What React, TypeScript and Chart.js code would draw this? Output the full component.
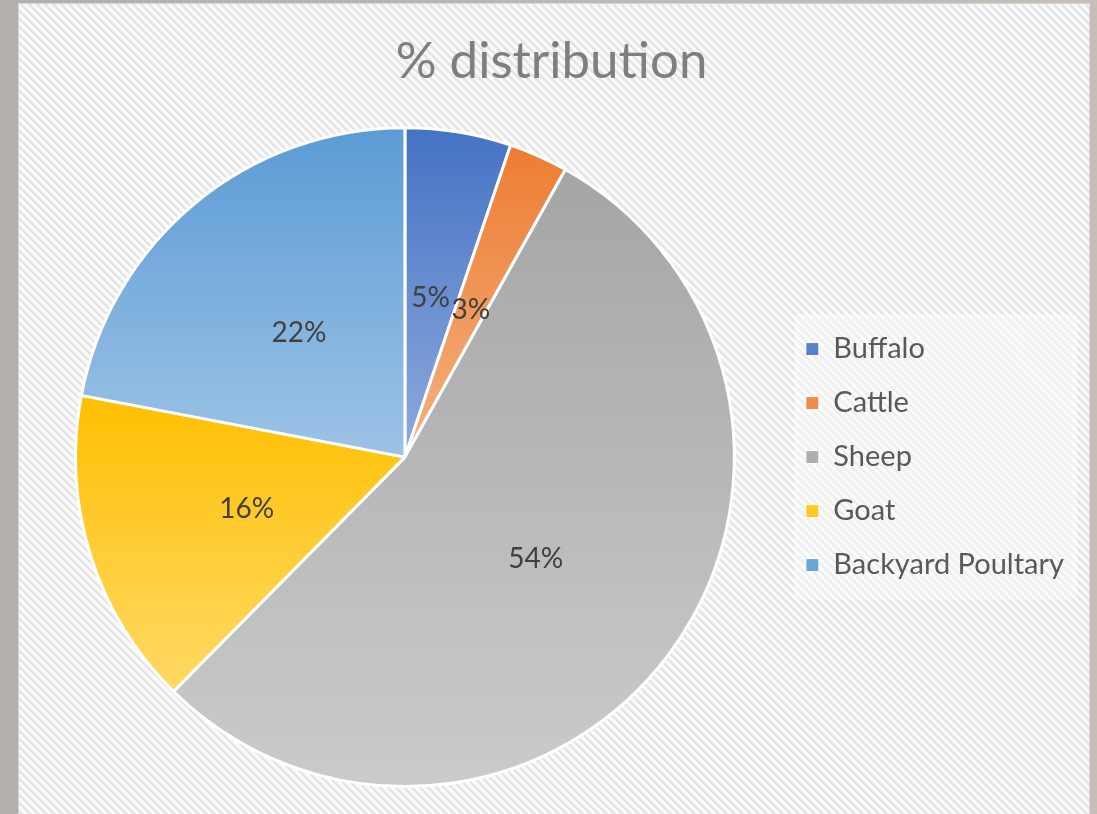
import React, { useEffect, useRef } from "react";
import { Chart, registerables } from "chart.js";

Chart.register(...registerables);

const categories = ["Buffalo", "Cattle", "Sheep", "Goat", "Backyard Poultary"];
const shares = [5.2, 2.9, 54.3, 15.6, 22.0];
const topColors = ["#4472C4", "#ED7D31", "#A5A5A5", "#FFC000", "#5B9BD5"];
const bottomColors = ["#8FAADC", "#F4B183", "#CBCBCB", "#FFD966", "#9DC3E6"];
const legendColors = ["#5A80CB", "#EF8C4B", "#AFAFAF", "#FFC826", "#6BA6DA"];
const titleText = "% distribution";

function sliceGradient(context: any) {
  const chart = context.chart;
  const idx = context.dataIndex;
  const area = chart.chartArea;
  if (!area || idx === undefined) return topColors[idx ?? 0];
  const cx = (area.left + area.right) / 2;
  const cy = (area.top + area.bottom) / 2;
  const r = Math.min(area.right - area.left, area.bottom - area.top) / 2;
  const total = shares.reduce((a, b) => a + b, 0);
  let start = 0;
  for (let i = 0; i < idx; i++) start += shares[i];
  const a0 = -Math.PI / 2 + (2 * Math.PI * start) / total;
  const a1 = a0 + (2 * Math.PI * shares[idx]) / total;
  const ys = [cy, cy + r * Math.sin(a0), cy + r * Math.sin(a1)];
  [-Math.PI / 2, Math.PI / 2, (3 * Math.PI) / 2].forEach((k) => {
    if (k >= a0 && k <= a1) ys.push(cy + r * Math.sin(k));
  });
  const y0 = Math.min(...ys);
  const y1 = Math.max(...ys);
  const g = chart.ctx.createLinearGradient(0, y0, 0, y1);
  g.addColorStop(0, topColors[idx]);
  g.addColorStop(1, bottomColors[idx]);
  return g;
}

const legendBackdrop = {
  id: "legendBackdrop",
  beforeDraw(chart: any) {
    const lg = chart.legend;
    if (!lg || !lg.legendHitBoxes || !lg.legendHitBoxes.length) return;
    const boxes = lg.legendHitBoxes;
    const left = Math.min(...boxes.map((b: any) => b.left)) - 11;
    const right = Math.max(...boxes.map((b: any) => b.left + b.width)) + 13;
    const top = boxes[0].top - 20;
    const bottom = boxes[boxes.length - 1].top + boxes[boxes.length - 1].height + 20;
    const ctx = chart.ctx;
    ctx.save();
    ctx.fillStyle = "rgba(255,255,255,0.4)";
    ctx.fillRect(left, top, right - left, bottom - top);
    ctx.restore();
  },
};

const sliceLabels = {
  id: "sliceLabels",
  afterDatasetsDraw(chart: any) {
    const meta = chart.getDatasetMeta(0);
    const ctx = chart.ctx;
    const total = shares.reduce((a, b) => a + b, 0);
    ctx.save();
    ctx.font = "28px Lato";
    ctx.fillStyle = "#404040";
    ctx.textAlign = "center";
    ctx.textBaseline = "middle";
    meta.data.forEach((arc: any, i: number) => {
      const p = arc.tooltipPosition(false);
      ctx.fillText(Math.round((shares[i] / total) * 100) + "%", p.x - 1, p.y + 3);
    });
    ctx.restore();
  },
};

export default function App() {
  const ref = useRef<HTMLCanvasElement | null>(null);
  useEffect(() => {
    if (!ref.current) return;
    Chart.defaults.font.family = "Lato";
    const chart = new Chart(ref.current, {
      type: "pie",
      data: {
        labels: categories,
        datasets: [
          {
            data: shares,
            backgroundColor: sliceGradient,
            borderColor: "#ffffff",
            borderWidth: 3,
            hoverOffset: 0,
          },
        ],
      },
      options: {
        animation: false,
        responsive: false,
        devicePixelRatio: 1,
        layout: { padding: { left: 29, right: 23, top: 0, bottom: 26 } },
        plugins: {
          tooltip: { enabled: false },
          title: {
            display: true,
            text: titleText,
            color: "#7F7F7F",
            font: { family: "Lato", size: 51, weight: "normal" },
            padding: { top: 31, bottom: 34 },
          },
          legend: {
            position: "right",
            fullSize: false,
            labels: {
              boxWidth: 13,
              boxHeight: 13,
              padding: 25,
              color: "#595959",
              font: { family: "Lato", size: 29 },
              generateLabels: () =>
                categories.map((c, i) => ({
                  text: c,
                  fillStyle: legendColors[i],
                  strokeStyle: "#ffffff",
                  lineWidth: 1,
                  hidden: false,
                  index: i,
                  fontColor: "#595959",
                })),
            },
          },
        },
      },
      plugins: [legendBackdrop, sliceLabels],
    });
    return () => chart.destroy();
  }, []);

  return (
    <div
      style={{
        position: "absolute",
        left: 0,
        top: 0,
        width: 1097,
        height: 814,
        overflow: "hidden",
        background: "linear-gradient(90deg, #b3afab 0%, #bdb8b3 50%, #c6beb7 100%)",
      }}
    >
      <div
        style={{
          position: "absolute",
          left: 18,
          top: 3,
          width: 1070,
          height: 820,
          border: "1px solid #d6d6d6",
          background:
            "repeating-linear-gradient(45deg, #fbfbfb 0px, #fbfbfb 2px, #e3e3e3 3px, #e3e3e3 4.2px, #fbfbfb 5.66px)",
        }}
      />
      <canvas
        ref={ref}
        width={1097}
        height={814}
        style={{ position: "absolute", left: 0, top: 0, width: 1097, height: 814 }}
      />
    </div>
  );
}
